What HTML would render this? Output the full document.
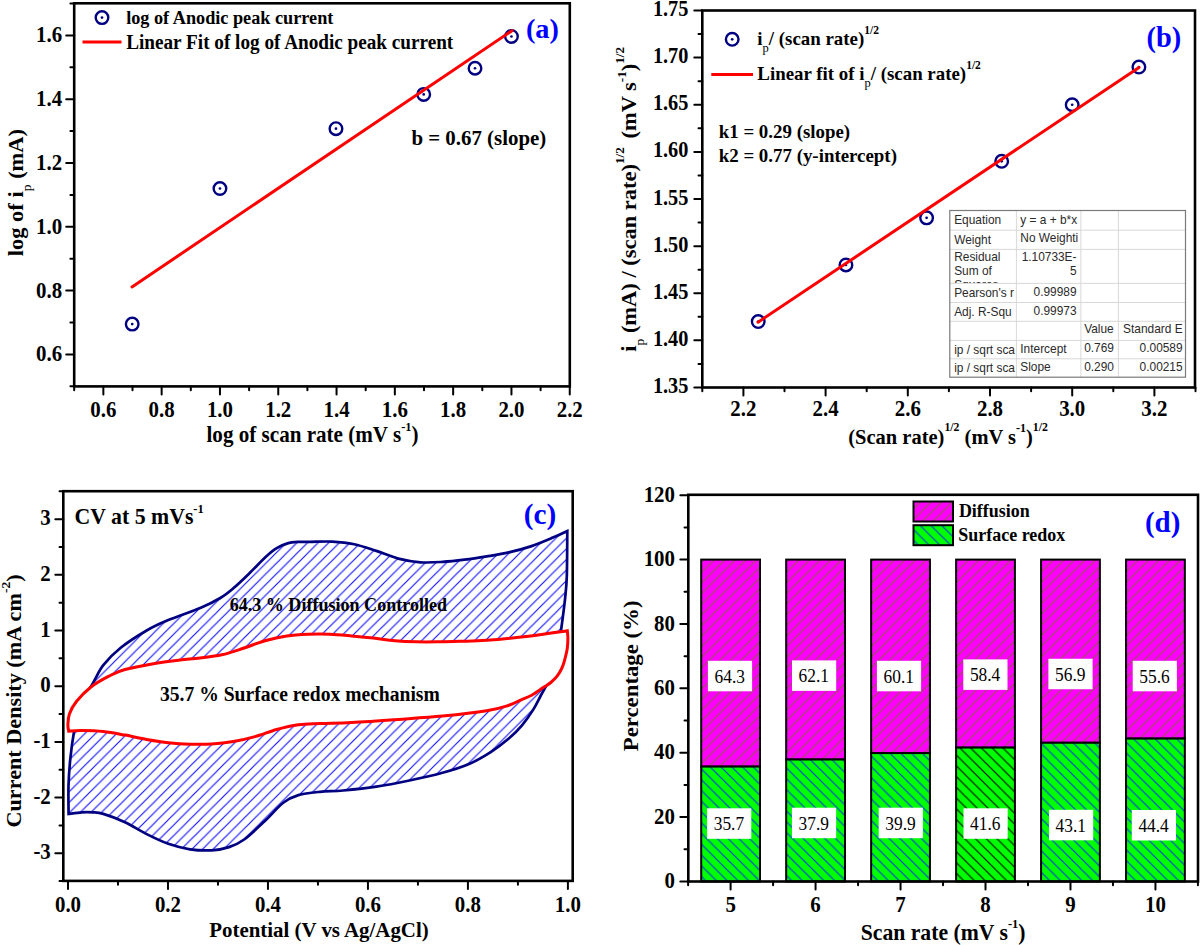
<!DOCTYPE html><html><head><meta charset="utf-8"><style>html,body{margin:0;padding:0;background:#fff;width:1200px;height:945px;overflow:hidden}svg{display:block}text{font-family:"Liberation Serif",serif}</style></head><body>
<svg width="1200" height="945" viewBox="0 0 1200 945">
<defs>
<pattern id="hatchC" patternUnits="userSpaceOnUse" x="2.3" y="0" width="10.6" height="10.6">
<path d="M-2,2 L2,-2 M0,10.6 L10.6,0 M8.6,12.6 L12.6,8.6" stroke="#1010ff" stroke-width="1.15"/>
</pattern>
<pattern id="hatchP" patternUnits="userSpaceOnUse" x="2.1" y="0" width="10.6" height="10.6">
<rect width="10.6" height="10.6" fill="#ff00ff"/>
<path d="M-2,2 L2,-2 M0,10.6 L10.6,0 M8.6,12.6 L12.6,8.6" stroke="#8a6040" stroke-width="1.05"/>
</pattern>
<pattern id="hatchG" patternUnits="userSpaceOnUse" x="7.75" y="0" width="10.75" height="10.75">
<rect width="10.75" height="10.75" fill="#00ff00"/>
<path d="M-2,8.75 L2,12.75 M0,0 L10.75,10.75 M8.75,-2 L12.75,2" stroke="#0830f0" stroke-width="1.1"/>
</pattern>
<pattern id="hatchGk" patternUnits="userSpaceOnUse" x="7.75" y="0" width="10.75" height="10.75">
<rect width="10.75" height="10.75" fill="#00ff00"/>
<path d="M-2,8.75 L2,12.75 M0,0 L10.75,10.75 M8.75,-2 L12.75,2" stroke="#000" stroke-width="1.1"/>
</pattern>
</defs>
<rect width="1200" height="945" fill="#fff"/>
<line x1="74.2" y1="386.4" x2="74.2" y2="390.2" stroke="#000" stroke-width="2" stroke-linecap="round"/>
<line x1="103.35" y1="386.4" x2="103.35" y2="394.4" stroke="#000" stroke-width="2" stroke-linecap="round"/>
<text transform="translate(103.35,416.6) scale(1,1.1)" font-size="20.9" text-anchor="middle" font-weight="bold" fill="#000" >0.6</text>
<line x1="132.5" y1="386.4" x2="132.5" y2="390.2" stroke="#000" stroke-width="2" stroke-linecap="round"/>
<line x1="161.65" y1="386.4" x2="161.65" y2="394.4" stroke="#000" stroke-width="2" stroke-linecap="round"/>
<text transform="translate(161.65,416.6) scale(1,1.1)" font-size="20.9" text-anchor="middle" font-weight="bold" fill="#000" >0.8</text>
<line x1="190.8" y1="386.4" x2="190.8" y2="390.2" stroke="#000" stroke-width="2" stroke-linecap="round"/>
<line x1="219.95" y1="386.4" x2="219.95" y2="394.4" stroke="#000" stroke-width="2" stroke-linecap="round"/>
<text transform="translate(219.95,416.6) scale(1,1.1)" font-size="20.9" text-anchor="middle" font-weight="bold" fill="#000" >1.0</text>
<line x1="249.1" y1="386.4" x2="249.1" y2="390.2" stroke="#000" stroke-width="2" stroke-linecap="round"/>
<line x1="278.25" y1="386.4" x2="278.25" y2="394.4" stroke="#000" stroke-width="2" stroke-linecap="round"/>
<text transform="translate(278.25,416.6) scale(1,1.1)" font-size="20.9" text-anchor="middle" font-weight="bold" fill="#000" >1.2</text>
<line x1="307.4" y1="386.4" x2="307.4" y2="390.2" stroke="#000" stroke-width="2" stroke-linecap="round"/>
<line x1="336.55" y1="386.4" x2="336.55" y2="394.4" stroke="#000" stroke-width="2" stroke-linecap="round"/>
<text transform="translate(336.55,416.6) scale(1,1.1)" font-size="20.9" text-anchor="middle" font-weight="bold" fill="#000" >1.4</text>
<line x1="365.7" y1="386.4" x2="365.7" y2="390.2" stroke="#000" stroke-width="2" stroke-linecap="round"/>
<line x1="394.85" y1="386.4" x2="394.85" y2="394.4" stroke="#000" stroke-width="2" stroke-linecap="round"/>
<text transform="translate(394.85,416.6) scale(1,1.1)" font-size="20.9" text-anchor="middle" font-weight="bold" fill="#000" >1.6</text>
<line x1="424" y1="386.4" x2="424" y2="390.2" stroke="#000" stroke-width="2" stroke-linecap="round"/>
<line x1="453.15" y1="386.4" x2="453.15" y2="394.4" stroke="#000" stroke-width="2" stroke-linecap="round"/>
<text transform="translate(453.15,416.6) scale(1,1.1)" font-size="20.9" text-anchor="middle" font-weight="bold" fill="#000" >1.8</text>
<line x1="482.3" y1="386.4" x2="482.3" y2="390.2" stroke="#000" stroke-width="2" stroke-linecap="round"/>
<line x1="511.45" y1="386.4" x2="511.45" y2="394.4" stroke="#000" stroke-width="2" stroke-linecap="round"/>
<text transform="translate(511.45,416.6) scale(1,1.1)" font-size="20.9" text-anchor="middle" font-weight="bold" fill="#000" >2.0</text>
<line x1="540.6" y1="386.4" x2="540.6" y2="390.2" stroke="#000" stroke-width="2" stroke-linecap="round"/>
<line x1="569.75" y1="386.4" x2="569.75" y2="394.4" stroke="#000" stroke-width="2" stroke-linecap="round"/>
<text transform="translate(569.75,416.6) scale(1,1.1)" font-size="20.9" text-anchor="middle" font-weight="bold" fill="#000" >2.2</text>
<line x1="74.2" y1="386.3" x2="70.4" y2="386.3" stroke="#000" stroke-width="2" stroke-linecap="round"/>
<line x1="74.2" y1="354.4" x2="66.2" y2="354.4" stroke="#000" stroke-width="2" stroke-linecap="round"/>
<text transform="translate(62.2,361.4) scale(1,1.1)" font-size="20.9" text-anchor="end" font-weight="bold" fill="#000" >0.6</text>
<line x1="74.2" y1="322.5" x2="70.4" y2="322.5" stroke="#000" stroke-width="2" stroke-linecap="round"/>
<line x1="74.2" y1="290.6" x2="66.2" y2="290.6" stroke="#000" stroke-width="2" stroke-linecap="round"/>
<text transform="translate(62.2,297.6) scale(1,1.1)" font-size="20.9" text-anchor="end" font-weight="bold" fill="#000" >0.8</text>
<line x1="74.2" y1="258.7" x2="70.4" y2="258.7" stroke="#000" stroke-width="2" stroke-linecap="round"/>
<line x1="74.2" y1="226.8" x2="66.2" y2="226.8" stroke="#000" stroke-width="2" stroke-linecap="round"/>
<text transform="translate(62.2,233.8) scale(1,1.1)" font-size="20.9" text-anchor="end" font-weight="bold" fill="#000" >1.0</text>
<line x1="74.2" y1="194.9" x2="70.4" y2="194.9" stroke="#000" stroke-width="2" stroke-linecap="round"/>
<line x1="74.2" y1="163" x2="66.2" y2="163" stroke="#000" stroke-width="2" stroke-linecap="round"/>
<text transform="translate(62.2,170) scale(1,1.1)" font-size="20.9" text-anchor="end" font-weight="bold" fill="#000" >1.2</text>
<line x1="74.2" y1="131.1" x2="70.4" y2="131.1" stroke="#000" stroke-width="2" stroke-linecap="round"/>
<line x1="74.2" y1="99.2" x2="66.2" y2="99.2" stroke="#000" stroke-width="2" stroke-linecap="round"/>
<text transform="translate(62.2,106.2) scale(1,1.1)" font-size="20.9" text-anchor="end" font-weight="bold" fill="#000" >1.4</text>
<line x1="74.2" y1="67.3" x2="70.4" y2="67.3" stroke="#000" stroke-width="2" stroke-linecap="round"/>
<line x1="74.2" y1="35.4" x2="66.2" y2="35.4" stroke="#000" stroke-width="2" stroke-linecap="round"/>
<text transform="translate(62.2,42.4) scale(1,1.1)" font-size="20.9" text-anchor="end" font-weight="bold" fill="#000" >1.6</text>
<line x1="74.2" y1="3.5" x2="70.4" y2="3.5" stroke="#000" stroke-width="2" stroke-linecap="round"/>
<rect x="74.2" y="3.3" width="495.6" height="383.1" fill="none" stroke="#000" stroke-width="2.6"/>
<circle cx="132.21" cy="324.1" r="6.3" fill="none" stroke="#000080" stroke-width="2.4"/>
<circle cx="132.21" cy="324.1" r="1.35" fill="#000080"/>
<circle cx="219.95" cy="188.52" r="6.3" fill="none" stroke="#000080" stroke-width="2.4"/>
<circle cx="219.95" cy="188.52" r="1.35" fill="#000080"/>
<circle cx="335.97" cy="128.71" r="6.3" fill="none" stroke="#000080" stroke-width="2.4"/>
<circle cx="335.97" cy="128.71" r="1.35" fill="#000080"/>
<circle cx="423.71" cy="94.42" r="6.3" fill="none" stroke="#000080" stroke-width="2.4"/>
<circle cx="423.71" cy="94.42" r="1.35" fill="#000080"/>
<circle cx="475.01" cy="68.26" r="6.3" fill="none" stroke="#000080" stroke-width="2.4"/>
<circle cx="475.01" cy="68.26" r="1.35" fill="#000080"/>
<circle cx="511.45" cy="36.48" r="6.3" fill="none" stroke="#000080" stroke-width="2.4"/>
<circle cx="511.45" cy="36.48" r="1.35" fill="#000080"/>
<line x1="132" y1="286.9" x2="512" y2="30.7" stroke="#f00" stroke-width="3" stroke-linecap="round"/>
<circle cx="102" cy="17.6" r="6.3" fill="none" stroke="#000080" stroke-width="2.4"/>
<circle cx="102" cy="17.6" r="1.35" fill="#000080"/>
<text transform="translate(126.14,24.4) scale(1,1.05)" font-size="18.24" text-anchor="start" font-weight="bold" fill="#000" >log of Anodic peak current</text>
<line x1="82.5" y1="42" x2="121.5" y2="42" stroke="#f00" stroke-width="3" stroke-linecap="butt"/>
<text transform="translate(126.21,48.7) scale(1,1.05)" font-size="19.2" text-anchor="start" font-weight="bold" fill="#000" >Linear Fit of log of Anodic peak current</text>
<text transform="translate(411.39,144.7) scale(1,1.05)" font-size="20.9" text-anchor="start" font-weight="bold" fill="#000" >b = 0.67 (slope)</text>
<text transform="translate(525.9,38.4) scale(1,1.0)" font-size="28.3" text-anchor="start" font-weight="bold" fill="#0000ff" >(a)</text>
<text transform="translate(206.5,442) scale(1,1.05)" font-size="21.1" text-anchor="start" font-weight="bold" fill="#000" >log of scan rate (mV s<tspan dy="-10.5" font-size="12.5">-1</tspan><tspan dy="10.5">)</tspan></text>
<text transform="translate(22.8,256.2) scale(1,1.05) rotate(-90)" font-size="21.4" text-anchor="start" font-weight="bold" fill="#000" >log of i<tspan dy="8.5" font-size="13" font-weight="normal">p</tspan><tspan dy="-8.5"> (mA)</tspan></text>
<line x1="702.3" y1="387.5" x2="702.3" y2="391.3" stroke="#000" stroke-width="2" stroke-linecap="round"/>
<line x1="743.4" y1="387.5" x2="743.4" y2="395.5" stroke="#000" stroke-width="2" stroke-linecap="round"/>
<text transform="translate(743.4,415.8) scale(1,1.1)" font-size="20.9" text-anchor="middle" font-weight="bold" fill="#000" >2.2</text>
<line x1="784.5" y1="387.5" x2="784.5" y2="391.3" stroke="#000" stroke-width="2" stroke-linecap="round"/>
<line x1="825.6" y1="387.5" x2="825.6" y2="395.5" stroke="#000" stroke-width="2" stroke-linecap="round"/>
<text transform="translate(825.6,415.8) scale(1,1.1)" font-size="20.9" text-anchor="middle" font-weight="bold" fill="#000" >2.4</text>
<line x1="866.7" y1="387.5" x2="866.7" y2="391.3" stroke="#000" stroke-width="2" stroke-linecap="round"/>
<line x1="907.8" y1="387.5" x2="907.8" y2="395.5" stroke="#000" stroke-width="2" stroke-linecap="round"/>
<text transform="translate(907.8,415.8) scale(1,1.1)" font-size="20.9" text-anchor="middle" font-weight="bold" fill="#000" >2.6</text>
<line x1="948.9" y1="387.5" x2="948.9" y2="391.3" stroke="#000" stroke-width="2" stroke-linecap="round"/>
<line x1="990" y1="387.5" x2="990" y2="395.5" stroke="#000" stroke-width="2" stroke-linecap="round"/>
<text transform="translate(990,415.8) scale(1,1.1)" font-size="20.9" text-anchor="middle" font-weight="bold" fill="#000" >2.8</text>
<line x1="1031.1" y1="387.5" x2="1031.1" y2="391.3" stroke="#000" stroke-width="2" stroke-linecap="round"/>
<line x1="1072.2" y1="387.5" x2="1072.2" y2="395.5" stroke="#000" stroke-width="2" stroke-linecap="round"/>
<text transform="translate(1072.2,415.8) scale(1,1.1)" font-size="20.9" text-anchor="middle" font-weight="bold" fill="#000" >3.0</text>
<line x1="1113.3" y1="387.5" x2="1113.3" y2="391.3" stroke="#000" stroke-width="2" stroke-linecap="round"/>
<line x1="1154.4" y1="387.5" x2="1154.4" y2="395.5" stroke="#000" stroke-width="2" stroke-linecap="round"/>
<text transform="translate(1154.4,415.8) scale(1,1.1)" font-size="20.9" text-anchor="middle" font-weight="bold" fill="#000" >3.2</text>
<line x1="1195.5" y1="387.5" x2="1195.5" y2="391.3" stroke="#000" stroke-width="2" stroke-linecap="round"/>
<line x1="702.3" y1="387.5" x2="694.3" y2="387.5" stroke="#000" stroke-width="2" stroke-linecap="round"/>
<text transform="translate(688.4,393.1) scale(1,1.1)" font-size="20.3" text-anchor="end" font-weight="bold" fill="#000" >1.35</text>
<line x1="702.3" y1="363.94" x2="698.5" y2="363.94" stroke="#000" stroke-width="2" stroke-linecap="round"/>
<line x1="702.3" y1="340.37" x2="694.3" y2="340.37" stroke="#000" stroke-width="2" stroke-linecap="round"/>
<text transform="translate(688.4,345.97) scale(1,1.1)" font-size="20.3" text-anchor="end" font-weight="bold" fill="#000" >1.40</text>
<line x1="702.3" y1="316.81" x2="698.5" y2="316.81" stroke="#000" stroke-width="2" stroke-linecap="round"/>
<line x1="702.3" y1="293.25" x2="694.3" y2="293.25" stroke="#000" stroke-width="2" stroke-linecap="round"/>
<text transform="translate(688.4,298.85) scale(1,1.1)" font-size="20.3" text-anchor="end" font-weight="bold" fill="#000" >1.45</text>
<line x1="702.3" y1="269.69" x2="698.5" y2="269.69" stroke="#000" stroke-width="2" stroke-linecap="round"/>
<line x1="702.3" y1="246.13" x2="694.3" y2="246.13" stroke="#000" stroke-width="2" stroke-linecap="round"/>
<text transform="translate(688.4,251.73) scale(1,1.1)" font-size="20.3" text-anchor="end" font-weight="bold" fill="#000" >1.50</text>
<line x1="702.3" y1="222.56" x2="698.5" y2="222.56" stroke="#000" stroke-width="2" stroke-linecap="round"/>
<line x1="702.3" y1="199" x2="694.3" y2="199" stroke="#000" stroke-width="2" stroke-linecap="round"/>
<text transform="translate(688.4,204.6) scale(1,1.1)" font-size="20.3" text-anchor="end" font-weight="bold" fill="#000" >1.55</text>
<line x1="702.3" y1="175.44" x2="698.5" y2="175.44" stroke="#000" stroke-width="2" stroke-linecap="round"/>
<line x1="702.3" y1="151.88" x2="694.3" y2="151.88" stroke="#000" stroke-width="2" stroke-linecap="round"/>
<text transform="translate(688.4,157.47) scale(1,1.1)" font-size="20.3" text-anchor="end" font-weight="bold" fill="#000" >1.60</text>
<line x1="702.3" y1="128.31" x2="698.5" y2="128.31" stroke="#000" stroke-width="2" stroke-linecap="round"/>
<line x1="702.3" y1="104.75" x2="694.3" y2="104.75" stroke="#000" stroke-width="2" stroke-linecap="round"/>
<text transform="translate(688.4,110.35) scale(1,1.1)" font-size="20.3" text-anchor="end" font-weight="bold" fill="#000" >1.65</text>
<line x1="702.3" y1="81.19" x2="698.5" y2="81.19" stroke="#000" stroke-width="2" stroke-linecap="round"/>
<line x1="702.3" y1="57.62" x2="694.3" y2="57.62" stroke="#000" stroke-width="2" stroke-linecap="round"/>
<text transform="translate(688.4,63.22) scale(1,1.1)" font-size="20.3" text-anchor="end" font-weight="bold" fill="#000" >1.70</text>
<line x1="702.3" y1="34.06" x2="698.5" y2="34.06" stroke="#000" stroke-width="2" stroke-linecap="round"/>
<line x1="702.3" y1="10.5" x2="694.3" y2="10.5" stroke="#000" stroke-width="2" stroke-linecap="round"/>
<text transform="translate(688.4,16.1) scale(1,1.1)" font-size="20.3" text-anchor="end" font-weight="bold" fill="#000" >1.75</text>
<rect x="702.3" y="10.5" width="492.7" height="377" fill="none" stroke="#000" stroke-width="2.6"/>
<circle cx="758.22" cy="321.53" r="6.3" fill="none" stroke="#000080" stroke-width="2.4"/>
<circle cx="758.22" cy="321.53" r="1.35" fill="#000080"/>
<circle cx="845.94" cy="264.98" r="6.3" fill="none" stroke="#000080" stroke-width="2.4"/>
<circle cx="845.94" cy="264.98" r="1.35" fill="#000080"/>
<circle cx="926.6" cy="217.85" r="6.3" fill="none" stroke="#000080" stroke-width="2.4"/>
<circle cx="926.6" cy="217.85" r="1.35" fill="#000080"/>
<circle cx="1001.68" cy="161.3" r="6.3" fill="none" stroke="#000080" stroke-width="2.4"/>
<circle cx="1001.68" cy="161.3" r="1.35" fill="#000080"/>
<circle cx="1072.2" cy="104.75" r="6.3" fill="none" stroke="#000080" stroke-width="2.4"/>
<circle cx="1072.2" cy="104.75" r="1.35" fill="#000080"/>
<circle cx="1138.9" cy="67.05" r="6.3" fill="none" stroke="#000080" stroke-width="2.4"/>
<circle cx="1138.9" cy="67.05" r="1.35" fill="#000080"/>
<line x1="758" y1="322.2" x2="1139" y2="67.5" stroke="#f00" stroke-width="3" stroke-linecap="round"/>
<circle cx="732.2" cy="39.3" r="6.3" fill="none" stroke="#000080" stroke-width="2.4"/>
<circle cx="732.2" cy="39.3" r="1.35" fill="#000080"/>
<text transform="translate(757.3,45.2) scale(1,1.05)" font-size="18.9" text-anchor="start" font-weight="bold" fill="#000" >i<tspan dy="6" font-size="12.5" font-weight="normal">p</tspan><tspan dy="-6">/ (scan rate)</tspan><tspan dy="-11" font-size="11.5">1/2</tspan></text>
<line x1="711.3" y1="74.5" x2="753" y2="74.5" stroke="#f00" stroke-width="3" stroke-linecap="butt"/>
<text transform="translate(757.3,80.2) scale(1,1.05)" font-size="18.9" text-anchor="start" font-weight="bold" fill="#000" >Linear fit of i<tspan dy="6" font-size="12.5" font-weight="normal">p</tspan><tspan dy="-6">/ (scan rate)</tspan><tspan dy="-11" font-size="11.5">1/2</tspan></text>
<text transform="translate(718.73,138.3) scale(1,1.05)" font-size="18.9" text-anchor="start" font-weight="bold" fill="#000" >k1 = 0.29 (slope)</text>
<text transform="translate(718.73,162.2) scale(1,1.05)" font-size="18.9" text-anchor="start" font-weight="bold" fill="#000" >k2 = 0.77 (y-intercept)</text>
<text transform="translate(1146.6,46.9) scale(1,1.0)" font-size="28.4" text-anchor="start" font-weight="bold" fill="#0000ff" >(b)</text>
<rect x="949.8" y="210.5" width="235.7" height="166.7" fill="#fff"/>
<line x1="1016.4" y1="210.5" x2="1016.4" y2="377.2" stroke="#d8d8d8" stroke-width="1" stroke-linecap="butt"/>
<line x1="1080.9" y1="210.5" x2="1080.9" y2="377.2" stroke="#d8d8d8" stroke-width="1" stroke-linecap="butt"/>
<line x1="1118.4" y1="210.5" x2="1118.4" y2="377.2" stroke="#d8d8d8" stroke-width="1" stroke-linecap="butt"/>
<line x1="949.8" y1="230.2" x2="1185.5" y2="230.2" stroke="#d8d8d8" stroke-width="1" stroke-linecap="butt"/>
<line x1="949.8" y1="249.4" x2="1185.5" y2="249.4" stroke="#d8d8d8" stroke-width="1" stroke-linecap="butt"/>
<line x1="949.8" y1="283.4" x2="1185.5" y2="283.4" stroke="#d8d8d8" stroke-width="1" stroke-linecap="butt"/>
<line x1="949.8" y1="302.5" x2="1185.5" y2="302.5" stroke="#d8d8d8" stroke-width="1" stroke-linecap="butt"/>
<line x1="949.8" y1="321.3" x2="1185.5" y2="321.3" stroke="#d8d8d8" stroke-width="1" stroke-linecap="butt"/>
<line x1="949.8" y1="340.4" x2="1185.5" y2="340.4" stroke="#d8d8d8" stroke-width="1" stroke-linecap="butt"/>
<line x1="949.8" y1="358.8" x2="1185.5" y2="358.8" stroke="#d8d8d8" stroke-width="1" stroke-linecap="butt"/>
<rect x="949.8" y="210.5" width="235.7" height="166.7" fill="none" stroke="#7a7a7a" stroke-width="1.2"/>
<text x="954.2" y="224.1" style='font-family:"Liberation Sans", sans-serif' font-size="11.9" fill="#2a2a2a" text-anchor="start" font-weight="normal">Equation</text>
<text x="1020.3" y="223.6" style='font-family:"Liberation Sans", sans-serif' font-size="11.9" fill="#2a2a2a" text-anchor="start" font-weight="normal">y = a + b*x</text>
<text x="954.2" y="243.8" style='font-family:"Liberation Sans", sans-serif' font-size="11.9" fill="#2a2a2a" text-anchor="start" font-weight="normal">Weight</text>
<text x="1020.3" y="241.8" style='font-family:"Liberation Sans", sans-serif' font-size="11.9" fill="#2a2a2a" text-anchor="start" font-weight="normal">No Weighti</text>
<text x="954.2" y="260.6" style='font-family:"Liberation Sans", sans-serif' font-size="11.9" fill="#2a2a2a" text-anchor="start" font-weight="normal">Residual</text>
<text x="1076.5" y="260.6" style='font-family:"Liberation Sans", sans-serif' font-size="11.9" fill="#2a2a2a" text-anchor="end" font-weight="normal">1.10733E-</text>
<text x="954.2" y="275.4" style='font-family:"Liberation Sans", sans-serif' font-size="11.9" fill="#2a2a2a" text-anchor="start" font-weight="normal">Sum of</text>
<text x="1076.5" y="275.4" style='font-family:"Liberation Sans", sans-serif' font-size="11.9" fill="#2a2a2a" text-anchor="end" font-weight="normal">5</text>
<clipPath id="rc"><rect x="949.8" y="249.4" width="60" height="33.5"/></clipPath>
<text x="954.2" y="288.8" style='font-family:"Liberation Sans", sans-serif' font-size="11.9" fill="#2a2a2a" clip-path="url(#rc)">Squares</text>
<text x="954.2" y="297" style='font-family:"Liberation Sans", sans-serif' font-size="11.9" fill="#2a2a2a" text-anchor="start" font-weight="normal">Pearson's r</text>
<text x="1076.5" y="296" style='font-family:"Liberation Sans", sans-serif' font-size="11.9" fill="#2a2a2a" text-anchor="end" font-weight="normal">0.99989</text>
<text x="954.2" y="316.1" style='font-family:"Liberation Sans", sans-serif' font-size="11.9" fill="#2a2a2a" text-anchor="start" font-weight="normal">Adj. R-Squ</text>
<text x="1076.5" y="315.1" style='font-family:"Liberation Sans", sans-serif' font-size="11.9" fill="#2a2a2a" text-anchor="end" font-weight="normal">0.99973</text>
<text x="1084.2" y="333.1" style='font-family:"Liberation Sans", sans-serif' font-size="11.9" fill="#2a2a2a" text-anchor="start" font-weight="normal">Value</text>
<text x="1182.6" y="333.1" style='font-family:"Liberation Sans", sans-serif' font-size="11.9" fill="#2a2a2a" text-anchor="end" font-weight="normal">Standard E</text>
<text x="954.2" y="354" style='font-family:"Liberation Sans", sans-serif' font-size="11.9" fill="#2a2a2a" text-anchor="start" font-weight="normal">ip / sqrt sca</text>
<text x="1020.3" y="353" style='font-family:"Liberation Sans", sans-serif' font-size="11.9" fill="#2a2a2a" text-anchor="start" font-weight="normal">Intercept</text>
<text x="1084.2" y="352.2" style='font-family:"Liberation Sans", sans-serif' font-size="11.9" fill="#2a2a2a" text-anchor="start" font-weight="normal">0.769</text>
<text x="1182.6" y="352.2" style='font-family:"Liberation Sans", sans-serif' font-size="11.9" fill="#2a2a2a" text-anchor="end" font-weight="normal">0.00589</text>
<text x="954.2" y="372.4" style='font-family:"Liberation Sans", sans-serif' font-size="11.9" fill="#2a2a2a" text-anchor="start" font-weight="normal">ip / sqrt sca</text>
<text x="1020.3" y="371.4" style='font-family:"Liberation Sans", sans-serif' font-size="11.9" fill="#2a2a2a" text-anchor="start" font-weight="normal">Slope</text>
<text x="1084.2" y="370.6" style='font-family:"Liberation Sans", sans-serif' font-size="11.9" fill="#2a2a2a" text-anchor="start" font-weight="normal">0.290</text>
<text x="1182.6" y="370.6" style='font-family:"Liberation Sans", sans-serif' font-size="11.9" fill="#2a2a2a" text-anchor="end" font-weight="normal">0.00215</text>
<text transform="translate(848.3,443.5) scale(1,1.05)" font-size="20.5" text-anchor="start" font-weight="bold" fill="#000" >(Scan rate)<tspan dy="-12" font-size="11.8">1/2</tspan><tspan dy="12"> (mV s</tspan><tspan dy="-10.5" font-size="12">-1</tspan><tspan dy="10.5">)</tspan><tspan dy="-12" font-size="11.8">1/2</tspan></text>
<text transform="translate(636.4,351.8) scale(1,1.05) rotate(-90)" font-size="21.4" text-anchor="start" font-weight="bold" fill="#000" >i<tspan dy="7.5" font-size="13" font-weight="normal">p</tspan><tspan dy="-7.5"> (mA) / (scan rate)</tspan><tspan dy="-12" font-size="12.5">1/2</tspan><tspan dy="12" dx="3">  (mV s</tspan><tspan dy="-10.5" font-size="12.5">-1</tspan><tspan dy="10.5">)</tspan><tspan dy="-12" font-size="12.5">1/2</tspan></text>
<path d="M68.6,813.9 C70.78,813.63 77.72,812.57 81.7,812.3 C85.68,812.03 88.9,812.03 92.5,812.3 C96.1,812.57 97.88,812.25 103.3,813.9 C108.72,815.55 117.77,818.83 125,822.2 C132.23,825.57 139.48,830.5 146.7,834.1 C153.92,837.7 161.08,841.27 168.3,843.8 C175.52,846.33 182.77,848.22 190,849.3 C197.23,850.38 205.2,850.67 211.7,850.3 C218.2,849.93 223.58,848.9 229,847.1 C234.42,845.3 238.05,844.02 244.2,839.5 C250.35,834.98 259.4,826.13 265.9,820 C272.4,813.87 277.78,806.85 283.2,802.7 C288.62,798.55 292.27,796.92 298.4,795.1 C304.53,793.28 312.55,792.57 320,791.8 C327.45,791.03 333.72,791.35 343.1,790.5 C352.48,789.65 365.25,788.37 376.3,786.7 C387.35,785.03 398.37,782.82 409.4,780.5 C420.43,778.18 432.57,775.55 442.5,772.8 C452.43,770.05 460.9,767.5 469,764 C477.1,760.5 484.47,756.03 491.1,751.8 C497.73,747.57 503.65,743.02 508.8,738.6 C513.95,734.18 517.95,730.08 522,725.3 C526.05,720.52 529.97,714.87 533.1,709.9 C536.23,704.93 538.32,700.15 540.8,695.5 C543.28,690.85 545.63,687.58 548,682 C550.37,676.42 553.08,669 555,662 C556.92,655 558.37,646.2 559.5,640 C560.63,633.8 560.87,631.75 561.8,624.8 C562.73,617.85 564.27,606.38 565.1,598.3 C565.93,590.22 566.43,587.52 566.8,576.3 C567.17,565.08 567.22,538.55 567.3,531 C564.9,532.1 558.98,535.03 552.9,537.6 C546.82,540.17 538.15,543.93 530.8,546.4 C523.45,548.87 516.15,550.73 508.8,552.4 C501.45,554.07 494.07,555.18 486.7,556.4 C479.33,557.62 471.97,558.78 464.6,559.7 C457.23,560.62 449.87,561.47 442.5,561.9 C435.13,562.33 427.77,562.85 420.4,562.3 C413.03,561.75 405.65,560.5 398.3,558.6 C390.95,556.7 383.65,553.3 376.3,550.9 C368.95,548.5 361.57,545.75 354.2,544.2 C346.83,542.65 339.47,541.98 332.1,541.6 C324.73,541.22 315.62,541.85 310,541.9 C304.38,541.95 302.15,541.65 298.4,541.9 C294.65,542.15 291.12,542.35 287.5,543.4 C283.88,544.45 280.3,545.97 276.7,548.2 C273.1,550.43 270.6,552.47 265.9,556.8 C261.2,561.13 253.93,568.95 248.5,574.2 C243.07,579.45 238,584.33 233.3,588.3 C228.6,592.27 225.72,594.75 220.3,598 C214.88,601.25 209.47,604.12 200.8,607.8 C192.13,611.48 177.32,616.32 168.3,620.1 C159.28,623.88 154.63,625.88 146.7,630.5 C138.77,635.12 127.93,642.02 120.7,647.8 C113.47,653.58 107.95,659.27 103.3,665.2 C98.65,671.13 96.68,676.77 92.8,683.4 C88.92,690.03 83.12,697.03 80,705 C76.88,712.97 75.72,722.22 74.1,731.2 C72.48,740.18 71.23,749.8 70.3,758.9 C69.37,768 68.78,776.63 68.5,785.8 C68.22,794.97 68.58,809.22 68.6,813.9 Z" fill="url(#hatchC)" stroke="#000080" stroke-width="2.7" stroke-linejoin="miter"/>
<path d="M68.7,731.2 C70.87,731.1 75.93,730.53 81.7,730.6 C87.47,730.67 96.08,730.85 103.3,731.6 C110.52,732.35 117.77,733.8 125,735.1 C132.23,736.4 139.48,738.13 146.7,739.4 C153.92,740.67 161.08,741.9 168.3,742.7 C175.52,743.5 182.77,743.98 190,744.2 C197.23,744.42 204.48,744.43 211.7,744 C218.92,743.57 226.08,742.83 233.3,741.6 C240.52,740.37 247.77,738.62 255,736.6 C262.23,734.58 269.47,731.47 276.7,729.5 C283.93,727.53 291.18,725.8 298.4,724.8 C305.62,723.8 311.12,723.9 320,723.5 C328.88,723.1 338.65,723.08 351.7,722.4 C364.75,721.72 383.17,720.45 398.3,719.4 C413.43,718.35 427.77,717.53 442.5,716.1 C457.23,714.67 475.65,712.6 486.7,710.8 C497.75,709 503.25,707.05 508.8,705.3 C514.35,703.55 516.18,701.98 520,700.3 C523.82,698.62 527.83,697.32 531.7,695.2 C535.57,693.08 540.02,689.72 543.2,687.6 C546.38,685.48 548.48,684.4 550.8,682.5 C553.12,680.6 555.2,678.73 557.1,676.2 C559,673.67 560.82,670.48 562.2,667.3 C563.58,664.12 564.55,660.27 565.4,657.1 C566.25,653.93 566.88,651.47 567.3,648.3 C567.72,645.13 567.9,641.02 567.9,638.1 C567.9,635.18 567.4,632.02 567.3,630.8 C561.22,631.65 544.23,634.32 530.8,635.9 C517.37,637.48 498.5,639.4 486.7,640.3 C474.9,641.2 468.05,641.05 460,641.3 C451.95,641.55 445.62,641.72 438.4,641.8 C431.18,641.88 423.93,641.98 416.7,641.8 C409.47,641.62 402.23,641.32 395,640.7 C387.77,640.08 380.52,638.9 373.3,638.1 C366.08,637.3 358.92,636.55 351.7,635.9 C344.48,635.25 337.23,634.48 330,634.2 C322.77,633.92 315.52,633.92 308.3,634.2 C301.08,634.48 293.92,634.82 286.7,635.9 C279.48,636.98 272.23,638.63 265,640.7 C257.77,642.77 250.52,645.95 243.3,648.3 C236.08,650.65 228.92,653.18 221.7,654.8 C214.48,656.42 206.95,657.13 200,658 C193.05,658.87 187.08,659.17 180,660 C172.92,660.83 166.67,661.42 157.5,663 C148.33,664.58 133.1,667.3 125,669.5 C116.9,671.7 114.57,673.28 108.9,676.2 C103.23,679.12 96.38,682.82 91,687 C85.62,691.18 80.2,696.82 76.6,701.3 C73,705.78 70.85,709.95 69.4,713.9 C67.95,717.85 68.02,722.12 67.9,725 C67.78,727.88 68.57,730.17 68.7,731.2 Z" fill="#fff" stroke="#ff0000" stroke-width="3" stroke-linejoin="miter"/>
<line x1="68" y1="880.9" x2="68" y2="888.9" stroke="#000" stroke-width="2" stroke-linecap="round"/>
<text transform="translate(68,912.2) scale(1,1.1)" font-size="20.9" text-anchor="middle" font-weight="bold" fill="#000" >0.0</text>
<line x1="117.99" y1="880.9" x2="117.99" y2="884.7" stroke="#000" stroke-width="2" stroke-linecap="round"/>
<line x1="167.98" y1="880.9" x2="167.98" y2="888.9" stroke="#000" stroke-width="2" stroke-linecap="round"/>
<text transform="translate(167.98,912.2) scale(1,1.1)" font-size="20.9" text-anchor="middle" font-weight="bold" fill="#000" >0.2</text>
<line x1="217.97" y1="880.9" x2="217.97" y2="884.7" stroke="#000" stroke-width="2" stroke-linecap="round"/>
<line x1="267.96" y1="880.9" x2="267.96" y2="888.9" stroke="#000" stroke-width="2" stroke-linecap="round"/>
<text transform="translate(267.96,912.2) scale(1,1.1)" font-size="20.9" text-anchor="middle" font-weight="bold" fill="#000" >0.4</text>
<line x1="317.95" y1="880.9" x2="317.95" y2="884.7" stroke="#000" stroke-width="2" stroke-linecap="round"/>
<line x1="367.94" y1="880.9" x2="367.94" y2="888.9" stroke="#000" stroke-width="2" stroke-linecap="round"/>
<text transform="translate(367.94,912.2) scale(1,1.1)" font-size="20.9" text-anchor="middle" font-weight="bold" fill="#000" >0.6</text>
<line x1="417.93" y1="880.9" x2="417.93" y2="884.7" stroke="#000" stroke-width="2" stroke-linecap="round"/>
<line x1="467.92" y1="880.9" x2="467.92" y2="888.9" stroke="#000" stroke-width="2" stroke-linecap="round"/>
<text transform="translate(467.92,912.2) scale(1,1.1)" font-size="20.9" text-anchor="middle" font-weight="bold" fill="#000" >0.8</text>
<line x1="517.91" y1="880.9" x2="517.91" y2="884.7" stroke="#000" stroke-width="2" stroke-linecap="round"/>
<line x1="567.9" y1="880.9" x2="567.9" y2="888.9" stroke="#000" stroke-width="2" stroke-linecap="round"/>
<text transform="translate(567.9,912.2) scale(1,1.1)" font-size="20.9" text-anchor="middle" font-weight="bold" fill="#000" >1.0</text>
<line x1="63.3" y1="881.08" x2="59.5" y2="881.08" stroke="#000" stroke-width="2" stroke-linecap="round"/>
<line x1="63.3" y1="853.24" x2="55.3" y2="853.24" stroke="#000" stroke-width="2" stroke-linecap="round"/>
<text transform="translate(50.8,859.24) scale(1,1.1)" font-size="20.9" text-anchor="end" font-weight="bold" fill="#000" >-3</text>
<line x1="63.3" y1="825.4" x2="59.5" y2="825.4" stroke="#000" stroke-width="2" stroke-linecap="round"/>
<line x1="63.3" y1="797.56" x2="55.3" y2="797.56" stroke="#000" stroke-width="2" stroke-linecap="round"/>
<text transform="translate(50.8,803.56) scale(1,1.1)" font-size="20.9" text-anchor="end" font-weight="bold" fill="#000" >-2</text>
<line x1="63.3" y1="769.72" x2="59.5" y2="769.72" stroke="#000" stroke-width="2" stroke-linecap="round"/>
<line x1="63.3" y1="741.88" x2="55.3" y2="741.88" stroke="#000" stroke-width="2" stroke-linecap="round"/>
<text transform="translate(50.8,747.88) scale(1,1.1)" font-size="20.9" text-anchor="end" font-weight="bold" fill="#000" >-1</text>
<line x1="63.3" y1="714.04" x2="59.5" y2="714.04" stroke="#000" stroke-width="2" stroke-linecap="round"/>
<line x1="63.3" y1="686.2" x2="55.3" y2="686.2" stroke="#000" stroke-width="2" stroke-linecap="round"/>
<text transform="translate(50.8,692.2) scale(1,1.1)" font-size="20.9" text-anchor="end" font-weight="bold" fill="#000" >0</text>
<line x1="63.3" y1="658.36" x2="59.5" y2="658.36" stroke="#000" stroke-width="2" stroke-linecap="round"/>
<line x1="63.3" y1="630.52" x2="55.3" y2="630.52" stroke="#000" stroke-width="2" stroke-linecap="round"/>
<text transform="translate(50.8,636.52) scale(1,1.1)" font-size="20.9" text-anchor="end" font-weight="bold" fill="#000" >1</text>
<line x1="63.3" y1="602.68" x2="59.5" y2="602.68" stroke="#000" stroke-width="2" stroke-linecap="round"/>
<line x1="63.3" y1="574.84" x2="55.3" y2="574.84" stroke="#000" stroke-width="2" stroke-linecap="round"/>
<text transform="translate(50.8,580.84) scale(1,1.1)" font-size="20.9" text-anchor="end" font-weight="bold" fill="#000" >2</text>
<line x1="63.3" y1="547" x2="59.5" y2="547" stroke="#000" stroke-width="2" stroke-linecap="round"/>
<line x1="63.3" y1="519.16" x2="55.3" y2="519.16" stroke="#000" stroke-width="2" stroke-linecap="round"/>
<text transform="translate(50.8,525.16) scale(1,1.1)" font-size="20.9" text-anchor="end" font-weight="bold" fill="#000" >3</text>
<line x1="63.3" y1="491.32" x2="59.5" y2="491.32" stroke="#000" stroke-width="2" stroke-linecap="round"/>
<rect x="63.3" y="491.2" width="509.4" height="389.7" fill="none" stroke="#000" stroke-width="2.6"/>
<text transform="translate(74.51,524.4) scale(1,1.05)" font-size="21.8" text-anchor="start" font-weight="bold" fill="#000" >CV at 5 mVs<tspan dy="-10.6" font-size="12.5">-1</tspan></text>
<text transform="translate(523.7,524.1) scale(1,1.0)" font-size="29.3" text-anchor="start" font-weight="bold" fill="#0000ff" >(c)</text>
<text transform="translate(229.67,611.4) scale(1,1.05)" font-size="18.07" text-anchor="start" font-weight="bold" fill="#000" >64.3 % Diffusion Controlled</text>
<text transform="translate(160.02,701.3) scale(1,1.05)" font-size="19.6" text-anchor="start" font-weight="bold" fill="#000" >35.7 % Surface redox mechanism</text>
<text transform="translate(209.29,937.4) scale(1,1.05)" font-size="20.9" text-anchor="start" font-weight="bold" fill="#000" >Potential (V vs Ag/AgCl)</text>
<text transform="translate(20.6,827.5) scale(1,1.05) rotate(-90)" font-size="21.15" text-anchor="start" font-weight="bold" fill="#000" >Current Density (mA cm<tspan dy="-10.5" font-size="13">-2</tspan><tspan dy="10.5">)</tspan></text>
<rect x="701.2" y="559.6" width="58.8" height="206.98" fill="url(#hatchP)" stroke="#000" stroke-width="2"/>
<rect x="701.2" y="766.58" width="58.8" height="114.92" fill="url(#hatchG)" stroke="#000" stroke-width="2"/>
<rect x="786.17" y="559.6" width="58.8" height="199.9" fill="url(#hatchP)" stroke="#000" stroke-width="2"/>
<rect x="786.17" y="759.5" width="58.8" height="122" fill="url(#hatchG)" stroke="#000" stroke-width="2"/>
<rect x="871.14" y="559.6" width="58.8" height="193.46" fill="url(#hatchP)" stroke="#000" stroke-width="2"/>
<rect x="871.14" y="753.06" width="58.8" height="128.44" fill="url(#hatchG)" stroke="#000" stroke-width="2"/>
<rect x="956.11" y="559.6" width="58.8" height="187.99" fill="url(#hatchP)" stroke="#000" stroke-width="2"/>
<rect x="956.11" y="747.59" width="58.8" height="133.91" fill="url(#hatchGk)" stroke="#000" stroke-width="2"/>
<rect x="1041.08" y="559.6" width="58.8" height="183.16" fill="url(#hatchP)" stroke="#000" stroke-width="2"/>
<rect x="1041.08" y="742.76" width="58.8" height="138.74" fill="url(#hatchG)" stroke="#000" stroke-width="2"/>
<rect x="1126.05" y="559.6" width="58.8" height="178.98" fill="url(#hatchP)" stroke="#000" stroke-width="2"/>
<rect x="1126.05" y="738.58" width="58.8" height="142.92" fill="url(#hatchG)" stroke="#000" stroke-width="2"/>
<rect x="707.9" y="660.8" width="44.2" height="30.5" fill="#fff"/>
<text transform="translate(729.7,682.8) scale(1,1.08)" font-size="17.4" text-anchor="middle" font-weight="normal" fill="#000" >64.3</text>
<rect x="707.1" y="808.3" width="44.2" height="30.5" fill="#fff"/>
<text transform="translate(728.9,830.3) scale(1,1.08)" font-size="17.4" text-anchor="middle" font-weight="normal" fill="#000" >35.7</text>
<rect x="792" y="660.4" width="44.2" height="30.5" fill="#fff"/>
<text transform="translate(813.8,682.4) scale(1,1.08)" font-size="17.4" text-anchor="middle" font-weight="normal" fill="#000" >62.1</text>
<rect x="791.95" y="807.7" width="44.2" height="30.5" fill="#fff"/>
<text transform="translate(813.75,829.7) scale(1,1.08)" font-size="17.4" text-anchor="middle" font-weight="normal" fill="#000" >37.9</text>
<rect x="876.9" y="660.8" width="44.2" height="30.5" fill="#fff"/>
<text transform="translate(898.7,682.8) scale(1,1.08)" font-size="17.4" text-anchor="middle" font-weight="normal" fill="#000" >60.1</text>
<rect x="878.7" y="807.7" width="44.2" height="30.5" fill="#fff"/>
<text transform="translate(900.5,829.7) scale(1,1.08)" font-size="17.4" text-anchor="middle" font-weight="normal" fill="#000" >39.9</text>
<rect x="963.3" y="659.4" width="44.2" height="30.5" fill="#fff"/>
<text transform="translate(985.1,681.4) scale(1,1.08)" font-size="17.4" text-anchor="middle" font-weight="normal" fill="#000" >58.4</text>
<rect x="963.5" y="808.3" width="44.2" height="30.5" fill="#fff"/>
<text transform="translate(985.3,830.3) scale(1,1.08)" font-size="17.4" text-anchor="middle" font-weight="normal" fill="#000" >41.6</text>
<rect x="1048.4" y="658.75" width="44.2" height="30.5" fill="#fff"/>
<text transform="translate(1070.2,680.75) scale(1,1.08)" font-size="17.4" text-anchor="middle" font-weight="normal" fill="#000" >56.9</text>
<rect x="1049" y="809.8" width="44.2" height="30.5" fill="#fff"/>
<text transform="translate(1070.8,831.8) scale(1,1.08)" font-size="17.4" text-anchor="middle" font-weight="normal" fill="#000" >43.1</text>
<rect x="1132.7" y="660.8" width="44.2" height="30.5" fill="#fff"/>
<text transform="translate(1154.5,682.8) scale(1,1.08)" font-size="17.4" text-anchor="middle" font-weight="normal" fill="#000" >55.6</text>
<rect x="1131.8" y="810" width="44.2" height="30.5" fill="#fff"/>
<text transform="translate(1153.6,832) scale(1,1.08)" font-size="17.4" text-anchor="middle" font-weight="normal" fill="#000" >44.4</text>
<line x1="688.12" y1="881.5" x2="688.12" y2="885.3" stroke="#000" stroke-width="2" stroke-linecap="round"/>
<line x1="730.6" y1="881.5" x2="730.6" y2="889.5" stroke="#000" stroke-width="2" stroke-linecap="round"/>
<text transform="translate(730.6,911.6) scale(1,1.1)" font-size="20.9" text-anchor="middle" font-weight="bold" fill="#000" >5</text>
<line x1="773.09" y1="881.5" x2="773.09" y2="885.3" stroke="#000" stroke-width="2" stroke-linecap="round"/>
<line x1="815.57" y1="881.5" x2="815.57" y2="889.5" stroke="#000" stroke-width="2" stroke-linecap="round"/>
<text transform="translate(815.57,911.6) scale(1,1.1)" font-size="20.9" text-anchor="middle" font-weight="bold" fill="#000" >6</text>
<line x1="858.06" y1="881.5" x2="858.06" y2="885.3" stroke="#000" stroke-width="2" stroke-linecap="round"/>
<line x1="900.54" y1="881.5" x2="900.54" y2="889.5" stroke="#000" stroke-width="2" stroke-linecap="round"/>
<text transform="translate(900.54,911.6) scale(1,1.1)" font-size="20.9" text-anchor="middle" font-weight="bold" fill="#000" >7</text>
<line x1="943.03" y1="881.5" x2="943.03" y2="885.3" stroke="#000" stroke-width="2" stroke-linecap="round"/>
<line x1="985.51" y1="881.5" x2="985.51" y2="889.5" stroke="#000" stroke-width="2" stroke-linecap="round"/>
<text transform="translate(985.51,911.6) scale(1,1.1)" font-size="20.9" text-anchor="middle" font-weight="bold" fill="#000" >8</text>
<line x1="1027.99" y1="881.5" x2="1027.99" y2="885.3" stroke="#000" stroke-width="2" stroke-linecap="round"/>
<line x1="1070.48" y1="881.5" x2="1070.48" y2="889.5" stroke="#000" stroke-width="2" stroke-linecap="round"/>
<text transform="translate(1070.48,911.6) scale(1,1.1)" font-size="20.9" text-anchor="middle" font-weight="bold" fill="#000" >9</text>
<line x1="1112.97" y1="881.5" x2="1112.97" y2="885.3" stroke="#000" stroke-width="2" stroke-linecap="round"/>
<line x1="1155.45" y1="881.5" x2="1155.45" y2="889.5" stroke="#000" stroke-width="2" stroke-linecap="round"/>
<text transform="translate(1155.45,911.6) scale(1,1.1)" font-size="20.9" text-anchor="middle" font-weight="bold" fill="#000" >10</text>
<line x1="1197.93" y1="881.5" x2="1197.93" y2="885.3" stroke="#000" stroke-width="2" stroke-linecap="round"/>
<line x1="688.3" y1="881.5" x2="680.3" y2="881.5" stroke="#000" stroke-width="2" stroke-linecap="round"/>
<text transform="translate(675,888.2) scale(1,1.1)" font-size="20.9" text-anchor="end" font-weight="bold" fill="#000" >0</text>
<line x1="688.3" y1="849.31" x2="684.5" y2="849.31" stroke="#000" stroke-width="2" stroke-linecap="round"/>
<line x1="688.3" y1="817.12" x2="680.3" y2="817.12" stroke="#000" stroke-width="2" stroke-linecap="round"/>
<text transform="translate(675,823.82) scale(1,1.1)" font-size="20.9" text-anchor="end" font-weight="bold" fill="#000" >20</text>
<line x1="688.3" y1="784.93" x2="684.5" y2="784.93" stroke="#000" stroke-width="2" stroke-linecap="round"/>
<line x1="688.3" y1="752.74" x2="680.3" y2="752.74" stroke="#000" stroke-width="2" stroke-linecap="round"/>
<text transform="translate(675,759.44) scale(1,1.1)" font-size="20.9" text-anchor="end" font-weight="bold" fill="#000" >40</text>
<line x1="688.3" y1="720.55" x2="684.5" y2="720.55" stroke="#000" stroke-width="2" stroke-linecap="round"/>
<line x1="688.3" y1="688.36" x2="680.3" y2="688.36" stroke="#000" stroke-width="2" stroke-linecap="round"/>
<text transform="translate(675,695.06) scale(1,1.1)" font-size="20.9" text-anchor="end" font-weight="bold" fill="#000" >60</text>
<line x1="688.3" y1="656.17" x2="684.5" y2="656.17" stroke="#000" stroke-width="2" stroke-linecap="round"/>
<line x1="688.3" y1="623.98" x2="680.3" y2="623.98" stroke="#000" stroke-width="2" stroke-linecap="round"/>
<text transform="translate(675,630.68) scale(1,1.1)" font-size="20.9" text-anchor="end" font-weight="bold" fill="#000" >80</text>
<line x1="688.3" y1="591.79" x2="684.5" y2="591.79" stroke="#000" stroke-width="2" stroke-linecap="round"/>
<line x1="688.3" y1="559.6" x2="680.3" y2="559.6" stroke="#000" stroke-width="2" stroke-linecap="round"/>
<text transform="translate(675,566.3) scale(1,1.1)" font-size="20.9" text-anchor="end" font-weight="bold" fill="#000" >100</text>
<line x1="688.3" y1="527.41" x2="684.5" y2="527.41" stroke="#000" stroke-width="2" stroke-linecap="round"/>
<line x1="688.3" y1="495.22" x2="680.3" y2="495.22" stroke="#000" stroke-width="2" stroke-linecap="round"/>
<text transform="translate(675,501.92) scale(1,1.1)" font-size="20.9" text-anchor="end" font-weight="bold" fill="#000" >120</text>
<rect x="688.3" y="494.8" width="509.7" height="386.7" fill="none" stroke="#000" stroke-width="2.6"/>
<rect x="913.5" y="501.5" width="39.5" height="20" fill="url(#hatchP)" stroke="#000" stroke-width="2"/>
<rect x="913.5" y="525.2" width="39.5" height="20" fill="url(#hatchG)" stroke="#000" stroke-width="2"/>
<text transform="translate(958.89,517) scale(1,1.05)" font-size="17.97" text-anchor="start" font-weight="bold" fill="#000" >Diffusion</text>
<text transform="translate(958.26,540.75) scale(1,1.05)" font-size="18" text-anchor="start" font-weight="bold" fill="#000" >Surface redox</text>
<text transform="translate(1144.94,531.5) scale(1,1.0)" font-size="29" text-anchor="start" font-weight="bold" fill="#0000ff" >(d)</text>
<text transform="translate(860.71,940) scale(1,1.05)" font-size="21.7" text-anchor="start" font-weight="bold" fill="#000" >Scan rate (mV s<tspan dy="-11" font-size="12.5">-1</tspan><tspan dy="11">)</tspan></text>
<text transform="translate(637.9,751.2) scale(1,1.05) rotate(-90)" font-size="21.7" text-anchor="start" font-weight="bold" fill="#000" >Percentage (%)</text>
</svg></body></html>
